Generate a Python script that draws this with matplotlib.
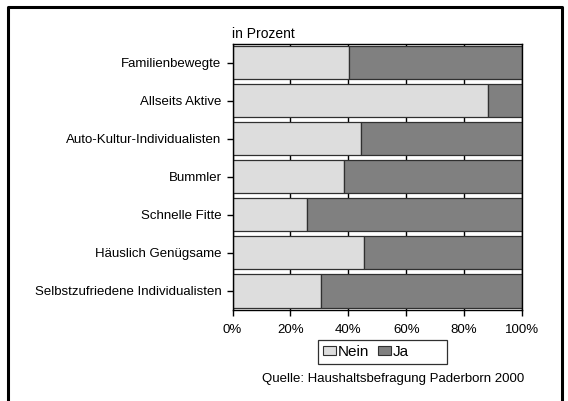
import matplotlib
matplotlib.use("Agg")
import matplotlib.pyplot as plt
from matplotlib.patches import Patch, Rectangle
from matplotlib.lines import Line2D
from matplotlib.ticker import FuncFormatter, MultipleLocator

plt.rcParams['font.family'] = ['Liberation Sans', 'DejaVu Sans']

categories = [
    "Familienbewegte",
    "Allseits Aktive",
    "Auto-Kultur-Individualisten",
    "Bummler",
    "Schnelle Fitte",
    "Häuslich Genügsame",
    "Selbstzufriedene Individualisten",
]
nein = [40.3, 88.3, 44.5, 38.4, 25.8, 45.4, 30.7]
ja = [100 - v for v in nein]
series_labels = ["Nein", "Ja"]

W, H = 568, 401
fig = plt.figure(figsize=(W / 100, H / 100), dpi=100)
fig.patch.set_facecolor("white")

# plot area in pixel coords
left, right, top, bottom = 232.5, 522, 43.5, 310
ax = fig.add_axes([left / W, 1 - bottom / H, (right - left) / W, (bottom - top) / H])

ypos = list(range(len(categories)))
c_nein, c_ja, edge = "#dddddd", "#808080", "#303030"
ax.barh(ypos, nein, height=0.87, color=c_nein, edgecolor=edge, linewidth=0.9, zorder=2)
ax.barh(ypos, ja, left=nein, height=0.87, color=c_ja, edgecolor=edge, linewidth=0.9, zorder=2)

ax.set_xlim(0, 100)
ax.set_ylim(len(categories) - 0.5, -0.5)
ax.set_yticks(ypos)
ax.set_yticklabels(categories, fontsize=9.5)
ax.xaxis.set_major_locator(MultipleLocator(20))
ax.xaxis.set_major_formatter(FuncFormatter(lambda v, p: f"{int(v)}%"))
ax.tick_params(axis="x", labelsize=9.5, direction="out", length=4, width=1, pad=6, color="black")
ax.tick_params(axis="y", direction="out", length=4, width=1, pad=4, color="black")
ax.grid(axis="x", color="black", linewidth=1, zorder=0)
ax.set_axisbelow(True)
for s in ax.spines.values():
    s.set_color("black")
    s.set_linewidth(1)

fig.text(left / W, 1 - 34 / H, "in Prozent", fontsize=10, ha="left", va="center")

# legend entries, with a separate box drawn around them
handles = [Patch(facecolor=c_nein, edgecolor=edge, linewidth=0.8),
           Patch(facecolor=c_ja, edgecolor=edge, linewidth=0.8)]
leg = fig.legend(handles, series_labels, loc="center left", bbox_to_anchor=(323 / W, 1 - 352 / H),
                 ncol=2, fontsize=11, frameon=False, handlelength=0.85,
                 handleheight=0.52, handletextpad=0.1, columnspacing=0.6, borderpad=0,
                 borderaxespad=0)
fig.add_artist(Rectangle((317.5 / W, 1 - 364 / H), (447 - 317.5) / W, (364 - 339.5) / H,
                         transform=fig.transFigure, fill=False, edgecolor="#303030",
                         linewidth=0.9))

fig.text(393 / W, 1 - 379 / H, "Quelle: Haushaltsbefragung Paderborn 2000", fontsize=9.5,
         ha="center", va="center")

# outer frame (open at the bottom)
fl, fr, ft = 7.5 / W, 562 / W, 1 - 6.5 / H
fig.add_artist(Line2D([fl, fl, fr, fr], [0, ft, ft, 0], transform=fig.transFigure,
                      color="black", linewidth=2.2))

fig.savefig("out.png", dpi=100)
